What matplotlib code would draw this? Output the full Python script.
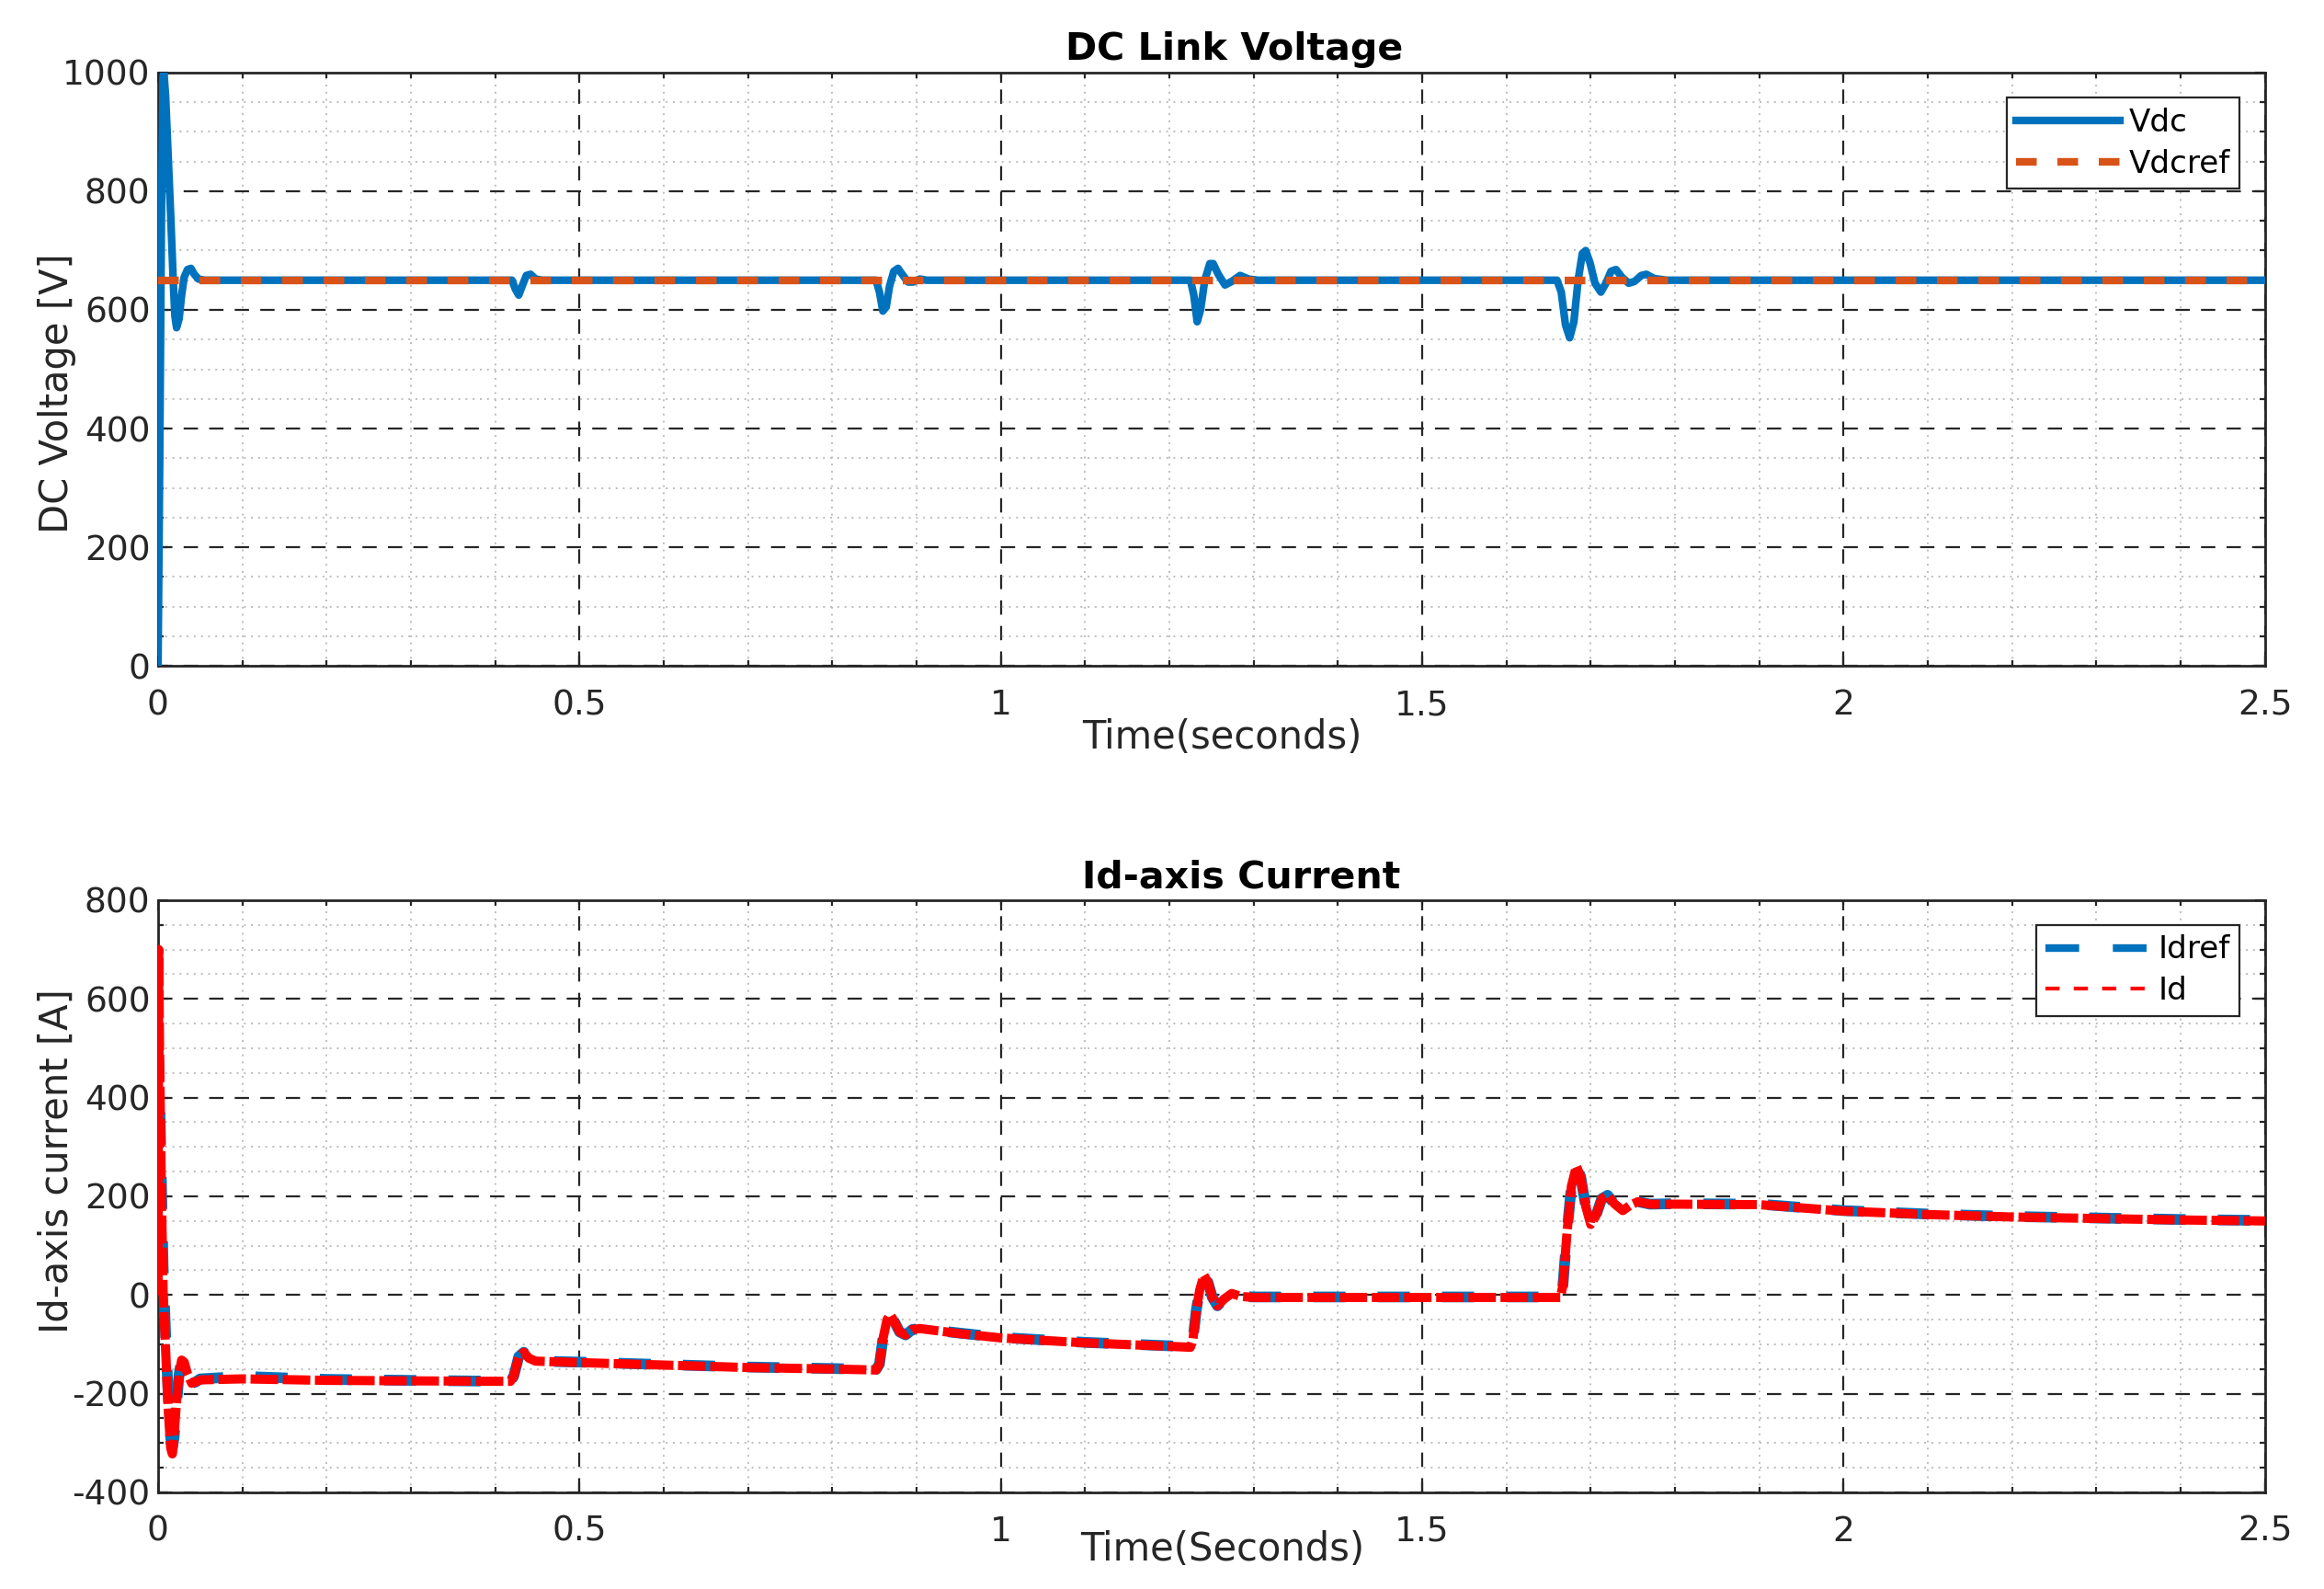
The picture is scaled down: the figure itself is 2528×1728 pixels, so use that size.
""" DC link voltage and d-axis current of the grid-side converter """

import matplotlib.pyplot as plt
from matplotlib.lines import Line2D
from matplotlib.ticker import MultipleLocator

# ---- DC link voltage ----
t_vdc = [0, 0.002, 0.004, 0.006, 0.007, 0.009, 0.012, 0.015, 0.018, 0.020,
         0.022, 0.025, 0.028, 0.031, 0.035, 0.039, 0.043, 0.048, 0.055,
         0.420, 0.424, 0.428, 0.432, 0.437, 0.442, 0.448, 0.456,
         0.852, 0.856, 0.860, 0.864, 0.868, 0.873, 0.878, 0.884, 0.890, 0.896, 0.904, 0.912,
         1.225, 1.229, 1.233, 1.237, 1.242, 1.248, 1.252, 1.258, 1.266, 1.274, 1.284, 1.294, 1.305,
         1.660, 1.665, 1.670, 1.675, 1.680, 1.685, 1.690, 1.694, 1.699, 1.705, 1.712, 1.718,
         1.724, 1.730, 1.737, 1.745, 1.752, 1.760, 1.766, 1.775, 1.790, 2.5]
vdc = [0, 350, 750, 990, 1000, 960, 860, 760, 650, 590,
       570, 585, 625, 655, 668, 670, 660, 652, 650,
       650, 635, 625, 640, 658, 660, 652, 650,
       650, 630, 598, 605, 640, 665, 670, 658, 647, 647, 652, 650,
       650, 625, 580, 600, 650, 678, 678, 660, 642, 648, 658, 652, 650,
       650, 630, 575, 553, 580, 650, 695, 700, 680, 645, 630, 645,
       665, 668, 655, 645, 648, 658, 660, 653, 650, 650]
t_vdcref = [0, 2.5]
vdcref = [650, 650]

# ---- d-axis current ----
t_id = [0.000, 0.0008, 0.002, 0.004, 0.006, 0.009, 0.012, 0.015, 0.017, 0.019,
        0.022, 0.025, 0.028, 0.031, 0.035, 0.040, 0.045, 0.050, 0.100, 0.200,
        0.300, 0.418, 0.422, 0.428, 0.434, 0.440, 0.448, 0.500, 0.600, 0.700,
        0.800, 0.852, 0.856, 0.860, 0.865, 0.869, 0.874, 0.880, 0.887, 0.895,
        0.904, 0.950, 1.000, 1.100, 1.200, 1.225, 1.228, 1.232, 1.236, 1.241,
        1.246, 1.251, 1.257, 1.265, 1.274, 1.285, 1.300, 1.500, 1.664, 1.667,
        1.672, 1.677, 1.683, 1.688, 1.694, 1.700, 1.706, 1.713, 1.720, 1.728,
        1.738, 1.747, 1.756, 1.770, 1.800, 1.900, 2.000, 2.100, 2.200, 2.300,
        2.400, 2.500]
id_meas = [0, 700, 460, 210, 10, -110, -230, -310, -322, -285,
           -215, -160, -132, -136, -160, -179, -176, -172, -170, -173,
           -174, -175, -165, -125, -116, -128, -134, -137, -142, -147,
           -150, -152, -140, -90, -50, -40, -55, -75, -81, -70,
           -68, -78, -87, -97, -104, -106, -90, -30, 10, 40,
           25, -5, -22, -8, 3, -3, -5, -5, -5, 20,
           130, 220, 261, 240, 180, 143, 160, 195, 202, 185,
           171, 182, 189, 184, 184, 183, 170, 163, 158, 155,
           152, 150]
idref = [500, 480, 400, 230, 60, -80, -200, -290, -310, -290,
         -220, -160, -132, -136, -160, -179, -176, -170, -165, -171,
         -173, -175, -165, -125, -116, -128, -134, -136, -141, -146,
         -149, -151, -140, -90, -50, -40, -55, -75, -81, -70,
         -68, -77, -86, -96, -103, -105, -90, -30, 10, 40,
         25, -5, -22, -8, 3, -3, -4, -4, -4, 20,
         130, 220, 261, 240, 180, 143, 160, 195, 202, 185,
         171, 182, 189, 184, 185, 184, 171, 164, 159, 156,
         153, 151]

BLUE = '#0072BD'
ORANGE = '#D95319'
TXT = '#262626'

plt.rcParams['font.family'] = ['DejaVu Sans']
plt.rcParams['axes.unicode_minus'] = False  # MATLAB 用普通连字符

fig = plt.figure(figsize=(12.64, 8.64), dpi=200)
ax1 = fig.add_axes([0.068, 0.581, 0.9066, 0.3733])
ax2 = fig.add_axes([0.068, 0.0608, 0.9066, 0.3727])


def style_axes(ax, ymin, ymax):
    """ MATLAB 风格的坐标轴和网格 """
    ax.set_xlim(0, 2.5)
    ax.set_ylim(ymin, ymax)
    ax.xaxis.set_major_locator(MultipleLocator(0.5))
    ax.xaxis.set_minor_locator(MultipleLocator(0.1))
    ax.yaxis.set_major_locator(MultipleLocator(200))
    ax.yaxis.set_minor_locator(MultipleLocator(50))
    ax.xaxis.set_major_formatter(plt.FuncFormatter(lambda v, p: f'{v:g}'))
    ax.grid(which='major', color=TXT, lw=0.8, linestyle=(0, (7, 5.5)))
    ax.grid(which='minor', color='#bdbdbd', lw=0.7, linestyle=(0, (1, 3)))
    ax.set_axisbelow(True)
    ax.tick_params(which='both', direction='in', top=True, right=True,
                   labelsize=13.5, colors=TXT, width=0.8)
    ax.tick_params(which='major', length=4)
    ax.tick_params(which='minor', length=2)
    ax.tick_params(axis='x', pad=9)
    ax.tick_params(axis='y', pad=3)
    for sp in ax.spines.values():
        sp.set_color(TXT)
        sp.set_linewidth(1.0)


def style_legend(leg):
    leg.get_frame().set_edgecolor(TXT)
    leg.get_frame().set_linewidth(0.8)


legend_kw = dict(loc='upper right', fontsize=12.3, handlelength=3.3,
                 borderaxespad=0.8, fancybox=False, framealpha=1,
                 labelspacing=0.35, handletextpad=0.3, borderpad=0.3)

# 上图：直流母线电压
style_axes(ax1, 0, 1000)
ax1.plot(t_vdc, vdc, color=BLUE, lw=3, label='Vdc', zorder=3)
ax1.plot(t_vdcref, vdcref, color=ORANGE, lw=3, linestyle=(0, (2.7, 2.7)),
         label='Vdcref', zorder=4)
ax1.set_title('DC Link Voltage', fontsize=14.8, fontweight='bold', pad=5, x=0.511)
ax1.set_xlabel('Time(seconds)', fontsize=15, color=TXT, labelpad=-1.5)
ax1.xaxis.label.set_x(0.505)
ax1.set_ylabel('DC Voltage [V]', fontsize=15, color=TXT)
ax1.yaxis.set_label_coords(-0.039, 0.46)
style_legend(ax1.legend(**legend_kw))

# 下图：d轴电流
style_axes(ax2, -400, 800)
ax2.plot(t_id, idref, color=BLUE, lw=4.2, linestyle=(0, (3, 3)), zorder=3)
ax2.plot(t_id, id_meas, color='red', lw=3.6, linestyle=(0, (3, 0.5)), zorder=4)
ax2.set_title('Id-axis Current', fontsize=14.8, fontweight='bold', pad=5, x=0.514)
ax2.set_xlabel('Time(Seconds)', fontsize=15, color=TXT, labelpad=-7)
ax2.xaxis.label.set_x(0.505)
ax2.set_ylabel('Id-axis current [A]', fontsize=15, color=TXT)
ax2.yaxis.set_label_coords(-0.039, 0.56)
handles = [Line2D([], [], color=BLUE, lw=3, linestyle=(0, (4.4, 4.4))),
           Line2D([], [], color='red', lw=1.5, linestyle=(0, (3.7, 3.7)))]
style_legend(ax2.legend(handles, ['Idref', 'Id'], **legend_kw))

fig.savefig('out.png', dpi=200)
